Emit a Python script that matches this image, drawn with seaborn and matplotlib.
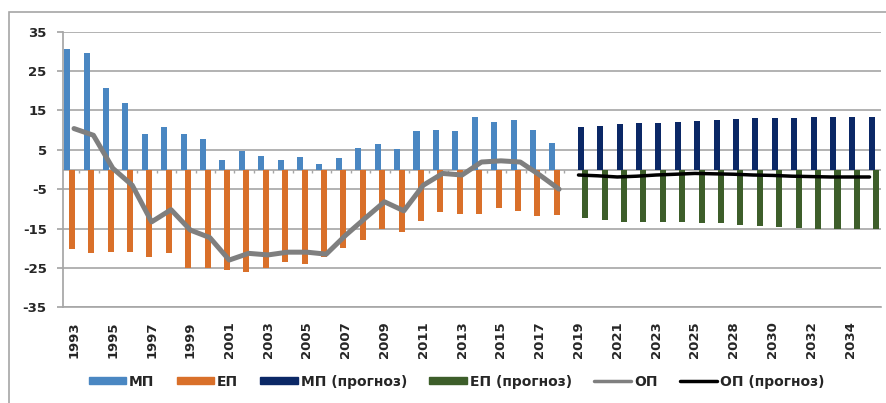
# === IMPORTS ===
import numpy as np
import pandas as pd
import matplotlib
matplotlib.use("Agg")
import matplotlib.pyplot as plt
from matplotlib.patches import Patch, Rectangle
from matplotlib.lines import Line2D
import seaborn as sns

# === DATA ===
hist_years = ["1993", "1994", "1995", "1996", "1997", "1998", "1999", "2000", "2001",
              "2002", "2003", "2004", "2005", "2006", "2007", "2008", "2009", "2010",
              "2011", "2012", "2013", "2014", "2015", "2016", "2017", "2018"]
fc_years = ["2019", "2020", "2021", "2022", "2023", "2024", "2025", "2027",
            "2028", "2029", "2030", "2031", "2032", "2033", "2034", "2035"]

mp_hist = [30.6, 29.5, 20.6, 16.8, 9.0, 10.8, 9.1, 7.7, 2.5, 4.7, 3.5, 2.4, 3.3,
           1.4, 3.0, 5.5, 6.6, 5.3, 9.7, 10.0, 9.7, 13.4, 12.1, 12.5, 10.0, 6.8]
ep_hist = [-20.1, -21.2, -21.0, -20.9, -22.2, -21.3, -25.1, -25.1, -25.6, -26.0,
           -25.1, -23.6, -24.1, -22.3, -19.9, -18.0, -15.0, -15.8, -13.0, -10.9,
           -11.2, -11.2, -9.9, -10.5, -11.9, -11.6]
op_hist = [10.4, 8.7, 0.3, -4.0, -13.3, -10.2, -15.4, -17.3, -23.0, -21.3, -21.7,
           -21.0, -21.0, -21.5, -16.7, -12.4, -8.2, -10.5, -4.0, -1.0, -1.4, 1.9,
           2.2, 1.9, -1.4, -5.0]

mp_fc = [10.8, 11.0, 11.5, 11.7, 11.9, 12.1, 12.4, 12.5, 12.8, 13.0, 13.2, 13.2,
         13.4, 13.4, 13.4, 13.4]
ep_fc = [-12.4, -12.9, -13.3, -13.3, -13.3, -13.3, -13.5, -13.7, -14.1, -14.4,
         -14.6, -14.8, -15.2, -15.2, -15.2, -15.2]
op_fc = [-1.4, -1.6, -1.9, -1.7, -1.4, -1.2, -1.0, -1.1, -1.2, -1.4, -1.5, -1.7,
         -1.8, -1.9, -1.9, -1.9]

series_names = ["МП", "ЕП", "МП (прогноз)", "ЕП (прогноз)"]
line_names = ["ОП", "ОП (прогноз)"]
y_ticks = [-35, -25, -15, -5, 5, 15, 25, 35]

# === SETTINGS ===
sns.set_theme(style="white")
plt.rcParams["font.family"] = ["DejaVu Sans"]

colors = {"МП": "#4a87c2", "ЕП": "#d9702a",
          "МП (прогноз)": "#0b2866", "ЕП (прогноз)": "#3d5e2a"}
grid_col = "#a6a6a6"

# long table for seaborn
years = hist_years + fc_years
n_hist = len(hist_years)
rows = []
for i, y in enumerate(hist_years):
    rows.append((i, y, "МП", mp_hist[i]))
    rows.append((i, y, "ЕП", ep_hist[i]))
for j, y in enumerate(fc_years):
    rows.append((n_hist + j, y, "МП (прогноз)", mp_fc[j]))
    rows.append((n_hist + j, y, "ЕП (прогноз)", ep_fc[j]))
df = pd.DataFrame(rows, columns=["pos", "year", "series", "value"])

# === PLOT ===
fig = plt.figure(figsize=(8.87, 4.03), dpi=100)
ax = fig.add_axes([0.0714, 0.2375, 0.9216, 0.6838])

# zero axis with small category ticks
ax.axhline(0, color=grid_col, lw=1.2, zorder=1)
ax.vlines(np.arange(len(years)) + 0.27, -1.0, 0, color=grid_col, lw=1, zorder=1)

sns.barplot(data=df, x="pos", y="value", hue="series", hue_order=series_names,
            palette=colors, dodge=True, width=0.93, saturation=1,
            errorbar=None, legend=False, ax=ax, zorder=2)

# widen bars a bit (they overlap in the original)
for p in ax.patches:
    cx = p.get_x() + p.get_width() / 2
    p.set_width(0.31)
    p.set_x(cx - 0.155)
    p.set_edgecolor("none")

sns.lineplot(x=np.arange(n_hist), y=op_hist, color="#7f7f7f", lw=3.6,
             ax=ax, zorder=3)
sns.lineplot(x=np.arange(n_hist, len(years)), y=op_fc, color="black", lw=2.5,
             ax=ax, zorder=3)

ax.set_ylim(-35, 35)
ax.set_xlim(-0.55, len(years) - 1 + 0.58)
ax.set_yticks(y_ticks)
ax.set_yticklabels([str(v) for v in y_ticks], fontsize=9.5, fontweight="bold")
ax.set_xticks(np.arange(0, len(years), 2))
ax.set_xticklabels(years[::2], rotation=90, fontsize=9.5, fontweight="bold")
ax.set_xlabel("")
ax.set_ylabel("")

ax.yaxis.grid(True, color=grid_col, lw=1.2)
ax.set_axisbelow(True)
for s in ["top", "right"]:
    ax.spines[s].set_visible(False)
ax.spines["left"].set_color(grid_col)
ax.spines["bottom"].set_color(grid_col)
ax.spines["bottom"].set_linewidth(1.2)
ax.tick_params(axis="y", length=4, color=grid_col, pad=8, left=True)
ax.tick_params(axis="x", length=0, pad=10)

# outer chart border
fig.patches.append(Rectangle((9.5 / 887, -0.1), 1.2, 0.9695 + 0.1,
                             transform=fig.transFigure, fill=False,
                             ec=grid_col, lw=1.2))

# legend
handles = [Patch(color=colors[s]) for s in series_names]
handles += [Line2D([0], [0], color="#7f7f7f", lw=2.5),
            Line2D([0], [0], color="black", lw=2.5)]
fig.legend(handles, series_names + line_names, loc="center",
           bbox_to_anchor=(0.515, 0.053), ncol=6, frameon=False,
           prop={"size": 10, "weight": "bold"}, handlelength=2.7,
           handleheight=0.45, handletextpad=0.2, columnspacing=1.6)

plt.savefig("out.png", dpi=100)
plt.close()
